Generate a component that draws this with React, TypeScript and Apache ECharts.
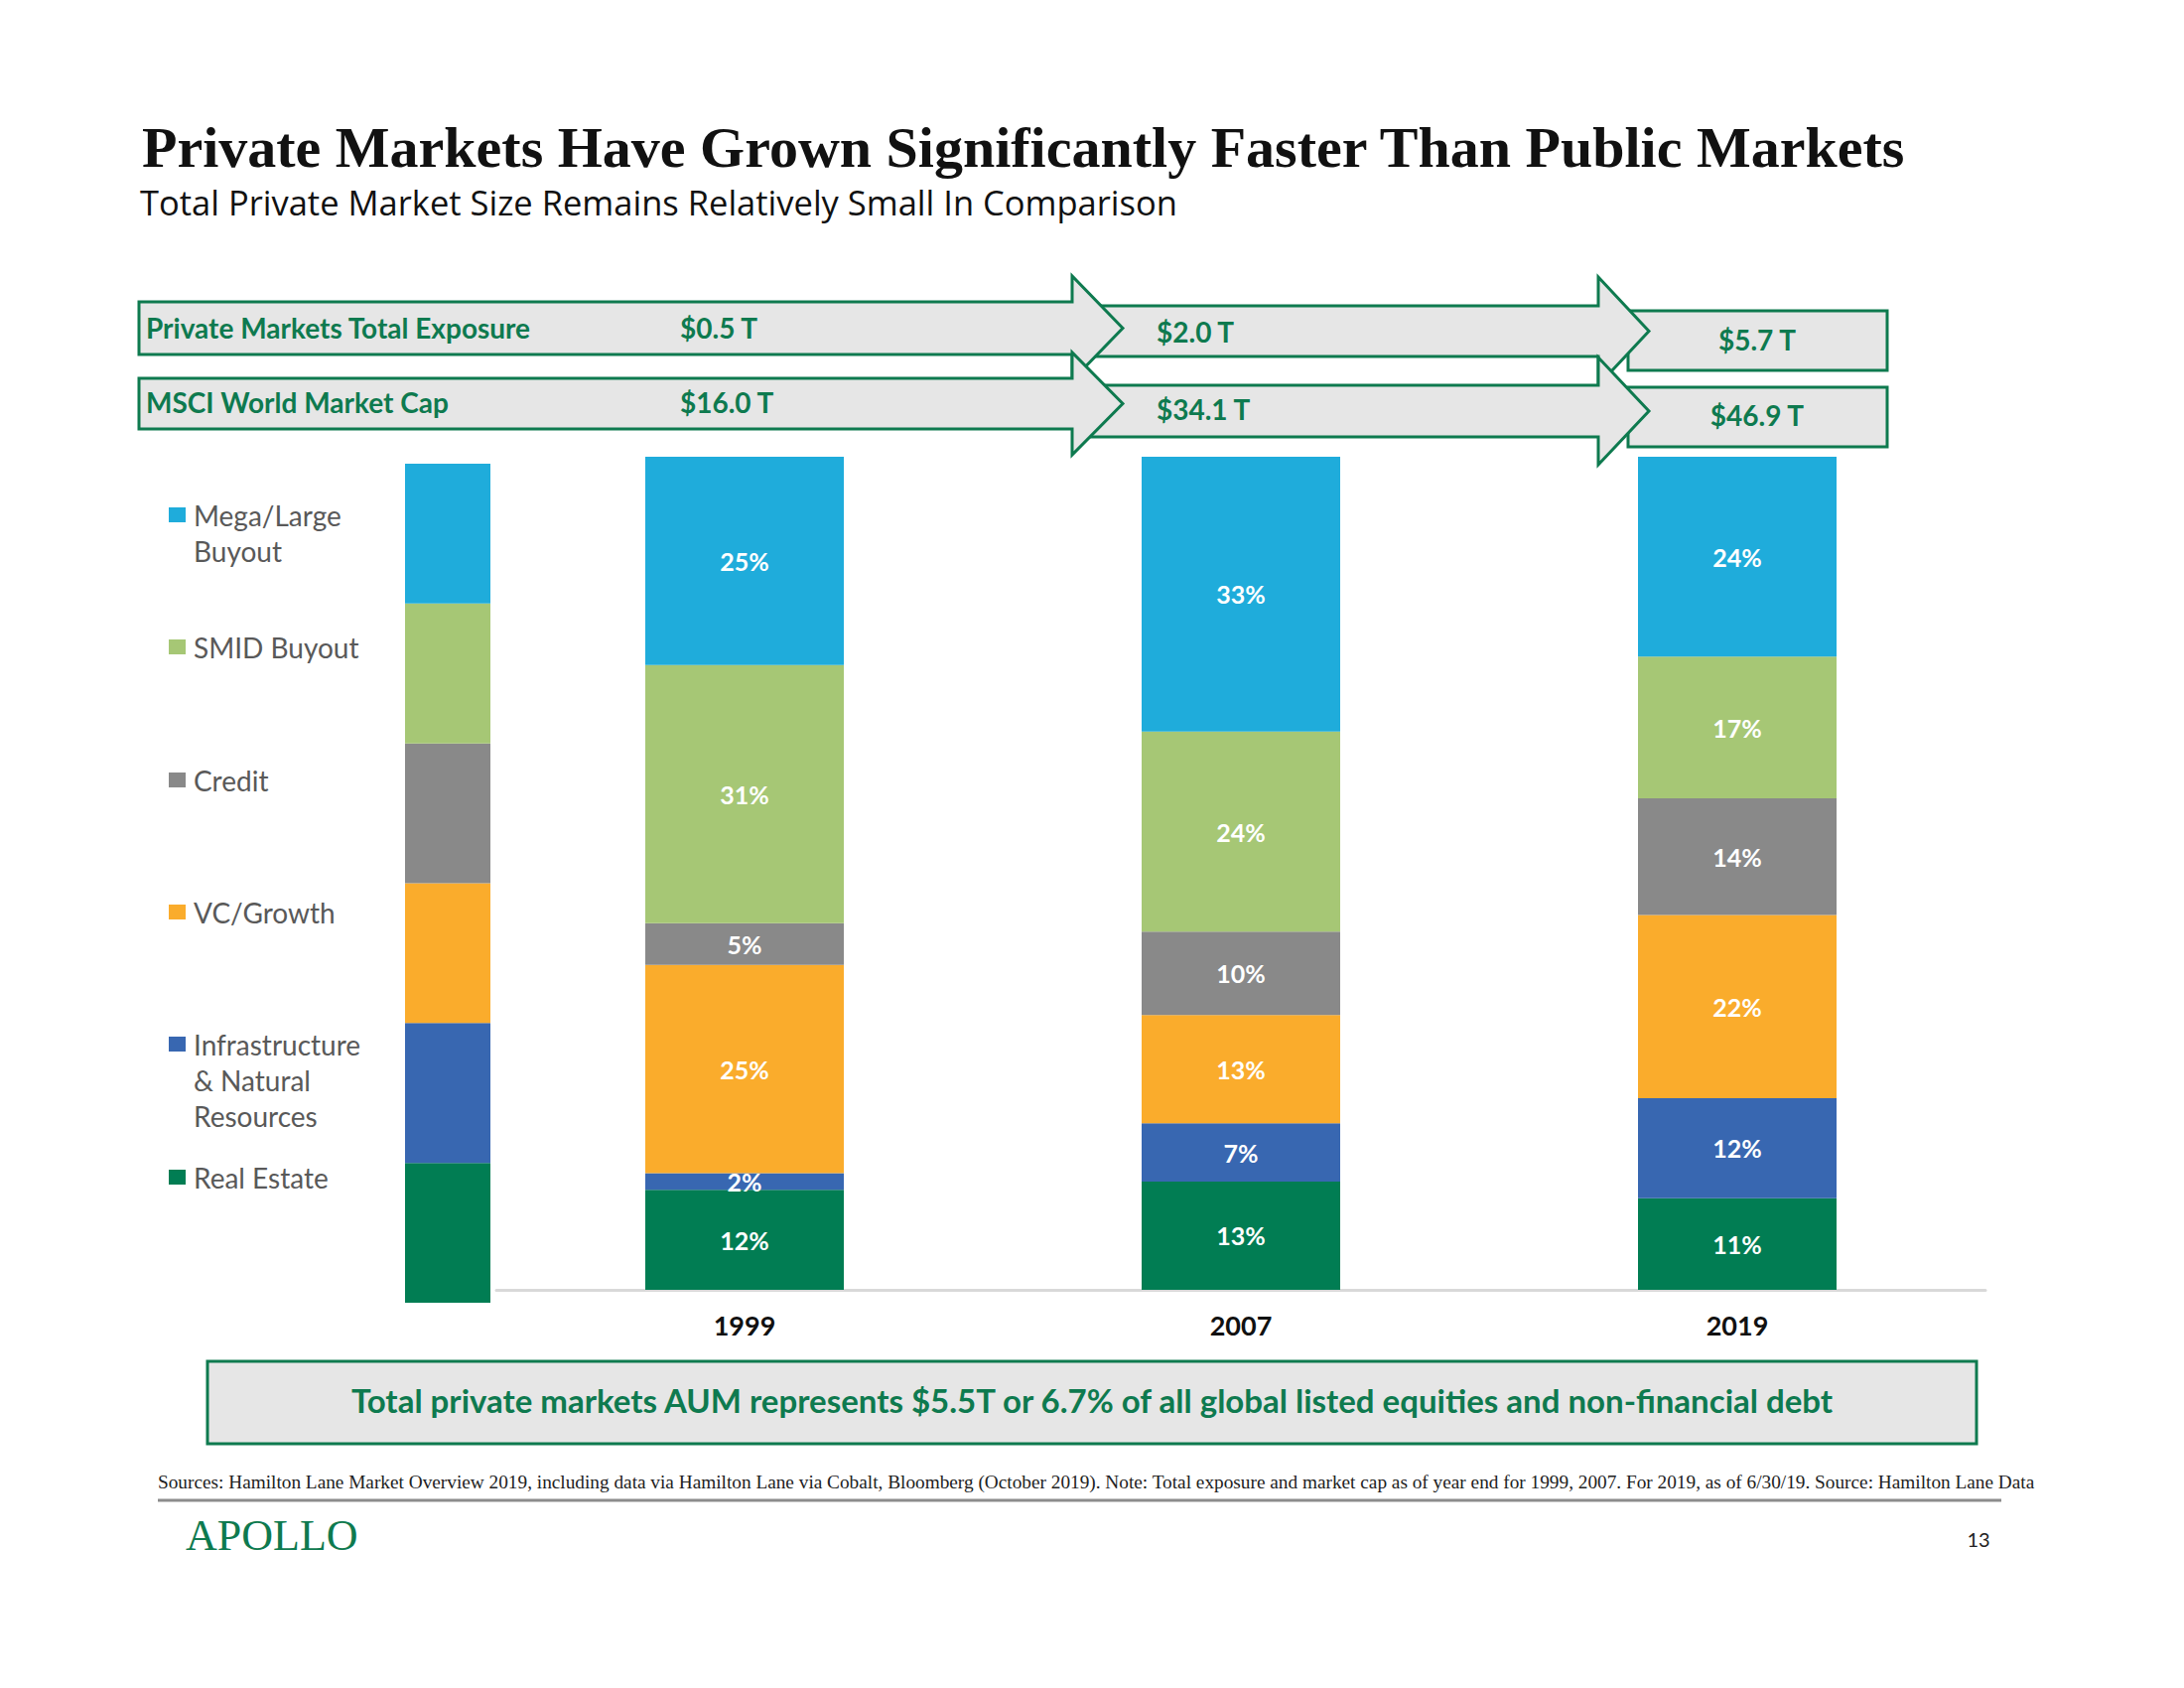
import React, { useEffect, useRef } from "react";
import * as echarts from "echarts";

// ---- Data ----
const categories = ["1999", "2007", "2019"];
const seriesNames = [
  "Real Estate",
  "Infrastructure & Natural Resources",
  "VC/Growth",
  "Credit",
  "SMID Buyout",
  "Mega/Large Buyout",
];
const realEstate = [12, 13, 11];
const infrastructure = [2, 7, 12];
const vcGrowth = [25, 13, 22];
const credit = [5, 10, 14];
const smidBuyout = [31, 24, 17];
const megaLargeBuyout = [25, 33, 24];
const privateExposure = ["$0.5 T", "$2.0 T", "$5.7 T"];
const msciMarketCap = ["$16.0 T", "$34.1 T", "$46.9 T"];
const legendLabels = [
  "Mega/Large\nBuyout",
  "SMID Buyout",
  "Credit",
  "VC/Growth",
  "Infrastructure\n& Natural\nResources",
  "Real Estate",
];
const legendBarUnits = [1, 1, 1, 1, 1, 1];

// ---- Styles ----
const colors = ["#017D53", "#3867B1", "#FAAC2C", "#898989", "#A6C775", "#1FACDB"];
const GREEN = "#0E7A4F";
const BOXFILL = "#E6E6E6";
const SANS = "Lato, 'Open Sans', sans-serif";
const SERIF = "'Liberation Serif', 'DejaVu Serif', serif";

function arrow(x0: number, xb: number, tip: number, top: number, bot: number, htop: number, hbot: number) {
  const cy = (top + bot) / 2;
  return {
    type: "polygon",
    shape: {
      points: [
        [x0, top],
        [xb, top],
        [xb, htop],
        [tip, cy],
        [xb, hbot],
        [xb, bot],
        [x0, bot],
      ],
    },
    style: { fill: BOXFILL, stroke: GREEN, lineWidth: 3 },
  };
}

function txt(text: string, x: number, y: number, opts: any = {}) {
  return {
    type: "text",
    x,
    y,
    style: {
      text,
      fill: opts.fill || GREEN,
      font: opts.font || `bold 28px ${SANS}`,
      align: opts.align || "left",
      verticalAlign: "middle",
      lineHeight: opts.lineHeight,
    },
  };
}

export default function App() {
  const ref = useRef<HTMLDivElement>(null);
  useEffect(() => {
    document.body.style.margin = "0";
    const chart = echarts.init(ref.current!, null, { renderer: "svg" });
    const values = [realEstate, infrastructure, vcGrowth, credit, smidBuyout, megaLargeBuyout];

    const mainSeries = values.map((d, i) => ({
      name: seriesNames[i],
      type: "bar",
      stack: "total",
      xAxisIndex: 0,
      yAxisIndex: 0,
      barWidth: 200,
      data: d,
      itemStyle: { color: colors[i] },
      label: {
        show: true,
        position: "inside",
        formatter: "{c}%",
        color: "#FFFFFF",
        fontFamily: SANS,
        fontWeight: "bold",
        fontSize: 25,
      },
    }));
    const legendSeries = legendBarUnits.map((v, i) => ({
      name: seriesNames[i] + " key",
      type: "bar",
      stack: "key",
      xAxisIndex: 1,
      yAxisIndex: 1,
      barWidth: 86,
      data: [v],
      itemStyle: { color: colors[i] },
    }));

    // legend text items
    const legendY = [519, 652, 786, 919, 1052, 1186];
    const legendColors = [colors[5], colors[4], colors[3], colors[2], colors[1], colors[0]];
    const legendGraphics: any[] = [];
    legendLabels.forEach((lab, i) => {
      legendGraphics.push({
        type: "rect",
        shape: { x: 170, y: legendY[i] - 8, width: 17, height: 15 },
        style: { fill: legendColors[i] },
      });
      legendGraphics.push({
        type: "text",
        x: 195,
        y: legendY[i] - 18,
        style: {
          text: lab,
          fill: "#595959",
          font: `28px ${SANS}`,
          align: "left",
          verticalAlign: "top",
          lineHeight: 36,
        },
      });
    });

    const graphics: any[] = [
      {
        type: "text",
        x: 143,
        y: 148,
        style: {
          text: "Private Markets Have Grown Significantly Faster Than Public Markets",
          fill: "#111111",
          font: `bold 58px ${SERIF}`,
          verticalAlign: "middle",
          lineHeight: 56,
        },
      },
      txt("Total Private Market Size Remains Relatively Small In Comparison", 141, 203, {
        fill: "#111111",
        font: `34.5px 'Open Sans', sans-serif`,
        lineHeight: 34,
      }),
      // final boxes
      { type: "rect", shape: { x: 1640, y: 313, width: 261, height: 60 }, style: { fill: BOXFILL, stroke: GREEN, lineWidth: 3 } },
      { type: "rect", shape: { x: 1640, y: 390, width: 261, height: 60 }, style: { fill: BOXFILL, stroke: GREEN, lineWidth: 3 } },
      // second arrow set
      arrow(1099, 1610, 1661, 308, 359, 279, 388),
      arrow(1099, 1610, 1661, 388, 440, 360, 468),
      // first arrow set
      arrow(140, 1080, 1131, 304, 357, 278, 383),
      arrow(140, 1080, 1131, 381, 432, 355, 458),
      txt("Private Markets Total Exposure", 147, 330),
      txt("MSCI World Market Cap", 147, 405),
      txt(privateExposure[0], 685, 330),
      txt(msciMarketCap[0], 685, 405),
      txt(privateExposure[1], 1165, 334),
      txt(msciMarketCap[1], 1165, 412),
      txt(privateExposure[2], 1770, 342, { align: "center" }),
      txt(msciMarketCap[2], 1770, 418, { align: "center" }),
      ...legendGraphics,
      // bottom callout
      { type: "rect", shape: { x: 209, y: 1371, width: 1782, height: 83 }, style: { fill: BOXFILL, stroke: GREEN, lineWidth: 3 } },
      txt(
        "Total private markets AUM represents $5.5T or 6.7% of all global listed equities and non-financial debt",
        1100,
        1410,
        { align: "center", font: `bold 33px ${SANS}` }
      ),
      txt(
        "Sources: Hamilton Lane Market Overview 2019, including data via Hamilton Lane via Cobalt, Bloomberg (October 2019). Note: Total exposure and market cap as of year end for 1999, 2007. For 2019, as of 6/30/19. Source: Hamilton Lane Data",
        159,
        1492,
        { fill: "#222222", font: `19.3px ${SERIF}` }
      ),
      { type: "line", shape: { x1: 159, y1: 1511, x2: 2016, y2: 1511 }, style: { stroke: "#8C8C8C", lineWidth: 3 } },
      txt("APOLLO", 187, 1546, { fill: GREEN, font: `44px ${SERIF}` }),
      txt("13", 1993, 1550, { fill: "#222222", font: `20px ${SANS}`, align: "center" }),
    ];

    chart.setOption({
      animation: false,
      backgroundColor: "#FFFFFF",
      grid: [
        { left: 500, width: 1500, top: 460, height: 839 },
        { left: 408, width: 86, top: 467, height: 845 },
      ],
      xAxis: [
        {
          type: "category",
          gridIndex: 0,
          data: categories,
          axisLine: { lineStyle: { color: "#D9D9D9", width: 3 } },
          axisTick: { show: false },
          axisLabel: {
            color: "#111111",
            fontFamily: SANS,
            fontWeight: "bold",
            fontSize: 27,
            margin: 22,
          },
        },
        { type: "category", gridIndex: 1, data: [""], show: false },
      ],
      yAxis: [
        { type: "value", gridIndex: 0, min: 0, max: 100, show: false, splitLine: { show: false } },
        { type: "value", gridIndex: 1, min: 0, max: 6, show: false, splitLine: { show: false } },
      ],
      series: [...mainSeries, ...legendSeries],
      graphic: graphics,
    });
    return () => chart.dispose();
  }, []);
  return <div ref={ref} style={{ position: "fixed", left: 0, top: 0, width: 2200, height: 1700 }} />;
}
